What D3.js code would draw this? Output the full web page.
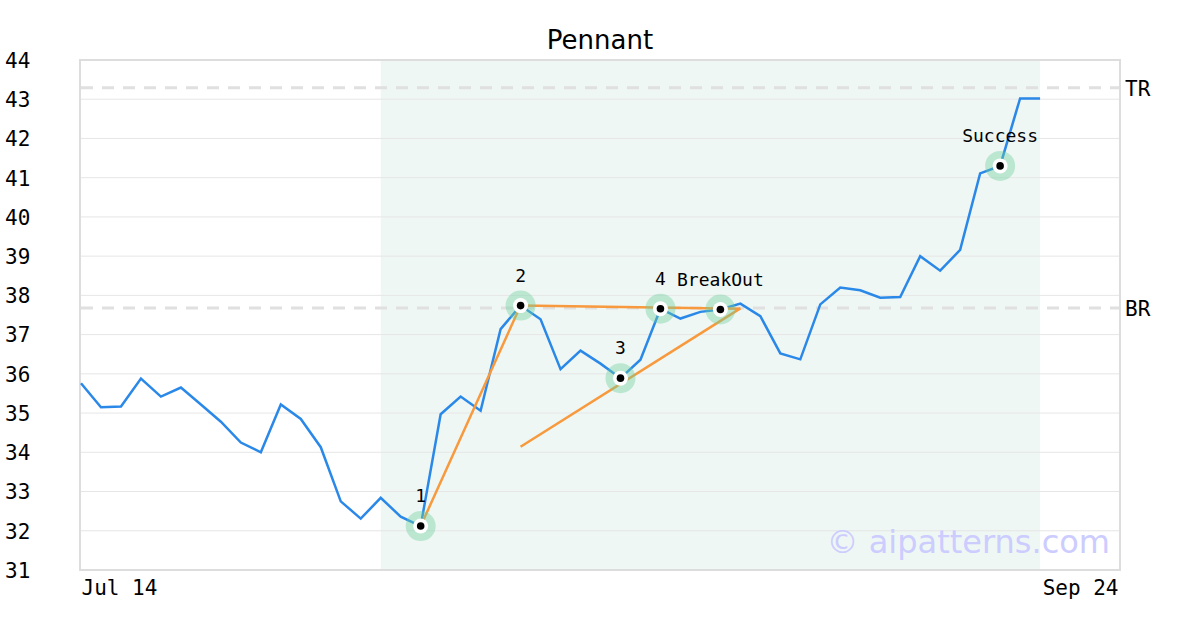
<!DOCTYPE html>
<html><head><meta charset="utf-8">
<script src="https://cdn.jsdelivr.net/npm/d3@7"></script>
<style>body{margin:0;background:#fff}svg{display:block}</style>
</head><body>
<svg id="c" width="1200" height="630"></svg>
<script>
const prices = [35.76,35.15,35.17,35.88,35.42,35.65,35.22,34.78,34.25,34.0,35.22,34.85,34.13,32.75,32.31,32.84,32.36,32.12,34.97,35.42,35.06,37.14,37.74,37.39,36.12,36.59,36.26,35.89,36.36,37.66,37.41,37.58,37.64,37.79,37.47,36.52,36.37,37.77,38.20,38.13,37.94,37.96,39.0,38.63,39.16,41.11,41.3,43.02,43.02];
const xTickIdx = [0, 52];
const xTickLabels = ["Jul 14", "Sep 24"];
const yTicks = [31,32,33,34,35,36,37,38,39,40,41,42,43,44];
const levelNames = ["TR", "BR"];
const levelValues = [43.29, 37.68];
const markIdx = [17, 22, 27, 29, 32, 46];
const markLabels = ["1", "2", "3", "4", "BreakOut", "Success"];
const trendLines = [
  [[17, 32.12], [22, 37.74]],
  [[22, 37.74], [33, 37.66]],
  [[22, 34.14], [33, 37.67]]
];
const shadeRange = [15, 48];

const svg = d3.select("#c");
const L = 81, R = 1120, T = 60, B = 570;
const x = d3.scaleLinear().domain([0, 52]).range([L, R]);
const y = d3.scaleLinear().domain([31, 44]).range([B, T]);
const mono = "'DejaVu Sans Mono', monospace";

// shade
svg.append("rect").attr("x", x(shadeRange[0])).attr("y", T)
  .attr("width", x(shadeRange[1]) - x(shadeRange[0])).attr("height", B - T)
  .attr("fill", "#eff7f4");

// gridlines
svg.append("g").selectAll("line").data(yTicks.slice(1, -1)).join("line")
  .attr("x1", L).attr("x2", R).attr("y1", d => y(d)).attr("y2", d => y(d))
  .attr("stroke", "#e6e6e6").attr("stroke-width", 1);

// level lines
svg.append("g").selectAll("line").data(levelValues).join("line")
  .attr("x1", L).attr("x2", R).attr("y1", d => y(d)).attr("y2", d => y(d))
  .attr("stroke", "#e0e0e0").attr("stroke-width", 3).attr("stroke-dasharray", "12,9");
svg.append("g").selectAll("text").data(levelValues).join("text")
  .attr("x", R + 5).attr("y", d => y(d) + 8).text((d, i) => levelNames[i])
  .attr("font-family", mono).attr("font-size", 21).attr("fill", "#000");

// frame
svg.append("rect").attr("x", L - 1).attr("y", T).attr("width", R - L + 1).attr("height", B - T)
  .attr("fill", "none").attr("stroke", "#dddddd").attr("stroke-width", 2);

// y axis labels
const yAxis = d3.axisLeft(y).tickValues(yTicks).tickSize(0).tickPadding(0).tickFormat(d3.format("d"));
const gy = svg.append("g").attr("transform", "translate(5,0)").call(yAxis);
gy.select(".domain").remove();
gy.selectAll("text").attr("text-anchor", "start").attr("x", 0).attr("dy", "0.35em")
  .attr("font-family", mono).attr("font-size", 21).attr("fill", "#000");

// x axis labels
const xAxis = d3.axisBottom(x).tickValues(xTickIdx).tickSize(0).tickPadding(0)
  .tickFormat((d, i) => xTickLabels[i]);
const gx = svg.append("g").attr("transform", `translate(0,${B + 25})`).call(xAxis);
gx.select(".domain").remove();
gx.selectAll("text").attr("y", 0).attr("dy", 0)
  .attr("text-anchor", (d, i) => i === 0 ? "start" : "end")
  .attr("dx", (d, i) => i === 0 ? 0 : -2)
  .attr("font-family", mono).attr("font-size", 21).attr("fill", "#000");

// watermark
svg.append("text").attr("x", 1110).attr("y", 553).attr("text-anchor", "end")
  .attr("font-family", "'DejaVu Sans', sans-serif").attr("font-size", 32)
  .attr("fill", "#ccccff").text("© aipatterns.com");

// price line
svg.append("path").datum(prices)
  .attr("d", d3.line().x((d, i) => x(i)).y(d => y(d)))
  .attr("fill", "none").attr("stroke", "#2a88e8").attr("stroke-width", 2.5)
  .attr("stroke-linejoin", "miter");

// markers
const mk = svg.append("g");
markIdx.forEach((idx, k) => {
  const cx = x(idx), cy = y(prices[idx]);
  mk.append("circle").attr("cx", cx).attr("cy", cy).attr("r", 15).attr("fill", "#6fcf9d").attr("fill-opacity", 0.4);
  mk.append("circle").attr("cx", cx).attr("cy", cy).attr("r", 7.5).attr("fill", "#fff");
});

// trend lines
svg.append("g").selectAll("line").data(trendLines).join("line")
  .attr("x1", d => x(d[0][0])).attr("y1", d => y(d[0][1]))
  .attr("x2", d => x(d[1][0])).attr("y2", d => y(d[1][1]))
  .attr("stroke", "#f7993c").attr("stroke-width", 2.5);

markIdx.forEach((idx, k) => {
  const cx = x(idx), cy = y(prices[idx]);
  mk.append("circle").attr("cx", cx).attr("cy", cy).attr("r", 3.8).attr("fill", "#000");
  mk.append("text").attr("x", cx).attr("y", cy - 24).attr("text-anchor", "middle")
    .attr("font-family", mono).attr("font-size", 18).attr("fill", "#000").text(markLabels[k]);
});
mk.raise();

// title
svg.append("text").attr("x", 600).attr("y", 49).attr("text-anchor", "middle")
  .attr("font-family", "'DejaVu Sans', sans-serif").attr("font-size", 26).attr("fill", "#000").text("Pennant");
</script>
</body></html>
